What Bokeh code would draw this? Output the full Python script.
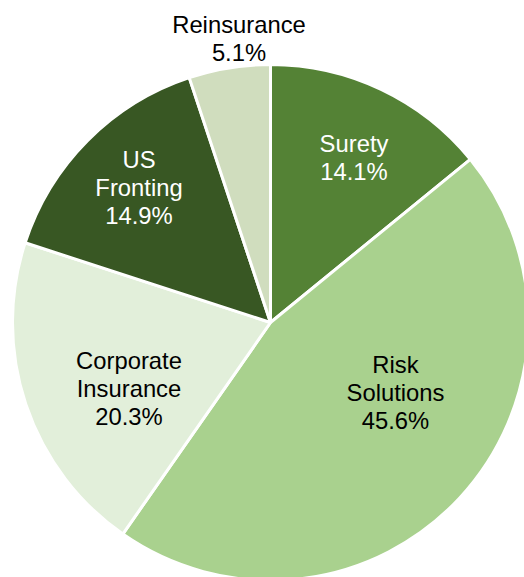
import math
from bokeh.plotting import figure
from bokeh.models import Range1d, ColumnDataSource
from bokeh.core.properties import value
from bokeh.embed import file_html
from bokeh.resources import INLINE

# ---- data ----
categories = ["Surety", "Risk Solutions", "Corporate Insurance", "US Fronting", "Reinsurance"]
shares = [14.1, 45.6, 20.3, 14.9, 5.1]

# ---- style / layout ----
colors = ["#548235", "#A9D18E", "#E2EFDA", "#385723", "#D0DDBE"]
text_colors = ["#FFFFFF", "#000000", "#000000", "#FFFFFF", "#000000"]
# label anchor offsets from pie centre (px): dx, first-line dy (downwards)
label_offsets = [(83.5, -179), (125, 42), (-141.5, 38), (-131.5, -163), (-31.5, -298)]

W, H = 524, 577
CX, CY, R = 270, 322, 258
LINE_H = 28
FONT = "Liberation Sans"
FS = "23.8px"

p = figure(width=W, height=H, output_backend="svg", toolbar_location=None,
           x_range=Range1d(0, W), y_range=Range1d(-H, 0),
           min_border=0, outline_line_color=None, background_fill_color="white")
p.axis.visible = False
p.grid.visible = False

total = sum(shares)
starts, ends = [], []
cum = 0.0
for s in shares:
    a0 = math.pi / 2 - 2 * math.pi * cum / total
    cum += s
    a1 = math.pi / 2 - 2 * math.pi * cum / total
    starts.append(a1)
    ends.append(a0)

src = ColumnDataSource(dict(start=starts, end=ends, color=colors, cat=categories, share=shares))
p.wedge(x=CX, y=-CY, radius=R, start_angle="start", end_angle="end",
        direction="anticlock", fill_color="color", line_color="white",
        line_width=3, source=src)

tx, ty, tt, tc = [], [], [], []
for cat, s, (dx, dy), col in zip(categories, shares, label_offsets, text_colors):
    lines = cat.split(" ") + [f"{s:.1f}%"]
    for k, ln in enumerate(lines):
        tx.append(CX + dx)
        ty.append(-(CY + dy + k * LINE_H))
        tt.append(ln)
        tc.append(col)

p.text(x="x", y="y", text="t", text_color="c",
       source=ColumnDataSource(dict(x=tx, y=ty, t=tt, c=tc)),
       text_align="center", text_baseline="alphabetic",
       text_font=value(FONT), text_font_size=FS)

open("out.html", "w").write(file_html(p, INLINE))
